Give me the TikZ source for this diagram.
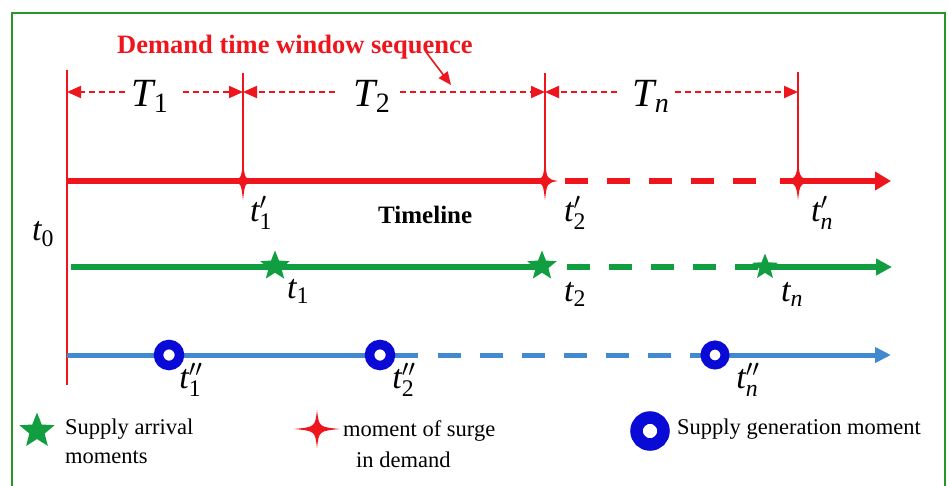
\RequirePackage{fix-cm}
\documentclass[tikz,border=0pt]{standalone}
\usepackage{amsmath}
\usepackage{fontspec}
\setmainfont{Liberation Serif}
\usetikzlibrary{arrows.meta,shapes.geometric}
\definecolor{redc}{RGB}{238,22,28}
\definecolor{greenc}{RGB}{16,158,64}
\definecolor{bluec}{RGB}{66,138,208}
\definecolor{ringc}{RGB}{10,10,215}
\definecolor{framec}{RGB}{40,150,40}
\newcommand{\iv}[1]{\text{\itshape #1}}
\newcommand{\uv}[1]{\text{\upshape #1}}
\tikzset{
  lab/.style={font=\fontsize{34}{38}\selectfont, inner sep=0pt},
  tlab/.style={font=\fontsize{40}{44}\selectfont, inner sep=0pt},
  legtext/.style={font=\fontsize{22.5}{30}\selectfont, inner sep=0pt, anchor=base west},
  tick/.style={redc, line width=2pt},
  dimline/.style={redc, line width=2pt, dash pattern=on 6pt off 4pt, -{Triangle[length=14pt,width=12pt]}},
  redline/.style={redc, line width=6pt},
  greenline/.style={greenc, line width=5.5pt},
  blueline/.style={bluec, line width=5pt},
  tldash/.style={dash pattern=on 23pt off 19pt},
  gstar/.style={star, star points=5, star point ratio=2.3, fill=greenc, inner sep=0pt, minimum size=#1},
  ring/.style={circle, draw=ringc, fill=white, inner sep=0pt, line width=#1},
  pics/spark/.style 2 args={code={\fill[redc] (0,-#2) .. controls (2,-2) .. (#1,0) .. controls (2,2) .. (0,#2) .. controls (-2,2) .. (-#1,0) .. controls (-2,-2) .. cycle;}}
}
\begin{document}
\begin{tikzpicture}[x=1pt,y=-1pt]
\useasboundingbox (0,0) rectangle (948,485);
\clip (0,0) rectangle (948,485);
\fill[white] (0,0) rectangle (948,485);
\draw[framec, line width=2pt] (12,13) rectangle (945,520);

% key coordinates
\coordinate (v0top) at (67,70);
\coordinate (v0bot) at (67,385);
\coordinate (v1top) at (243,73);
\coordinate (v2top) at (545,73);
\coordinate (v3top) at (798,72);
\coordinate (r0) at (67,181);
\coordinate (r1) at (243,181);
\coordinate (r2) at (545,181);
\coordinate (r3) at (798,181);
\coordinate (rd1) at (565,181);
\coordinate (rd2) at (757,181);
\coordinate (rs) at (780,181);
\coordinate (rend) at (891,181);
\coordinate (g0) at (71,267);
\coordinate (g1) at (275,266);
\coordinate (g2) at (542,266);
\coordinate (g3) at (765,267);
\coordinate (gs) at (542,267);
\coordinate (gd1) at (567,267);
\coordinate (gd2) at (758,267);
\coordinate (gend) at (892,267);
\coordinate (b0) at (67,355);
\coordinate (b1) at (169,355);
\coordinate (b2) at (380,355);
\coordinate (b3) at (715,355);
\coordinate (bs) at (418,355);
\coordinate (bd1) at (438,355);
\coordinate (bd2) at (712,355);
\coordinate (bend) at (891,355);

% title
\node[font=\bfseries\fontsize{26.5}{30}\selectfont, text=redc, inner sep=0pt, anchor=base west] (title) at (117,53) {Demand time window sequence};
\coordinate (ta0) at (426,52);
\coordinate (ta1) at (451,85);
\draw[redc, line width=1.6pt, -{Triangle[length=13pt,width=11pt]}] (ta0) -- (ta1);

% vertical ticks
\draw[tick] (v0top) -- (v0bot);
\draw[tick] (v1top) -- (r1);
\draw[tick] (v2top) -- (r2);
\draw[tick] (v3top) -- (r3);

% dimension arrows
\coordinate (d1a) at (125,92); \coordinate (d1b) at (183,92);
\coordinate (d2a) at (335,92); \coordinate (d2b) at (400,92);
\coordinate (d3a) at (617,92); \coordinate (d3b) at (675,92);
\coordinate (e0) at (67,92); \coordinate (e1) at (243,92);
\coordinate (e2) at (545,92); \coordinate (e3) at (798,92);
\draw[dimline] (d1a) -- (e0);
\draw[dimline] (d1b) -- (e1);
\draw[dimline] (d2a) -- (e1);
\draw[dimline] (d2b) -- (e2);
\draw[dimline] (d3a) -- (e2);
\draw[dimline] (d3b) -- (e3);
\node[tlab] (T1) at (150,96) {$\iv{T}_{\uv{1}}$};
\node[tlab] (T2) at (372,96) {$\iv{T}_{\uv{2}}$};
\node[tlab] (Tn) at (651,96) {$\iv{T}_{\iv{n}}$};

% red timeline
\draw[redline] (r0) -- (r2);
\draw[redline, tldash] (rd1) -- (rd2);
\draw[redline, -{Triangle[length=16pt,width=18pt]}] (rs) -- (rend);
\pic at (r1) {spark={11}{19}};
\pic at (r2) {spark={13}{19}};
\pic at (r3) {spark={19}{19}};
\node[lab] (lt0) at (43,234) {$\iv{t}_{\uv{0}}$};
\node[lab] (lt1p) at (261,213) {$\iv{t}'_{\uv{1}}$};
\node[lab] (lt2p) at (575,213) {$\iv{t}'_{\uv{2}}$};
\node[lab] (ltnp) at (822,213) {$\iv{t}'_{\iv{n}}$};
\node[font=\bfseries\fontsize{25}{30}\selectfont, inner sep=0pt, anchor=base west] (timeline) at (378,223) {Timeline};

% green line
\draw[greenline] (g0) -- (gs);
\draw[greenline, tldash] (gd1) -- (gd2);
\draw[greenline, -{Triangle[length=16pt,width=16pt]}] (g3) -- (gend);
\node[gstar=31pt] (s1) at (g1) {};
\node[gstar=31pt] (s2) at (g2) {};
\node[gstar=27pt] (s3) at (g3) {};
\node[lab] (lt1) at (298,291) {$\iv{t}_{\uv{1}}$};
\node[lab] (lt2) at (575,294) {$\iv{t}_{\uv{2}}$};
\node[lab] (ltn) at (792,294) {$\iv{t}_{\iv{n}}$};

% blue line
\draw[blueline] (b0) -- (bs);
\draw[blueline, tldash] (bd1) -- (bd2);
\draw[blueline, -{Triangle[length=16pt,width=15pt]}] (b3) -- (bend);
\node[ring=9.5pt, minimum size=21pt] (c1) at (b1) {};
\node[ring=9.5pt, minimum size=21pt] (c2) at (b2) {};
\node[ring=9pt, minimum size=20pt] (c3) at (b3) {};
\node[lab] (lt1pp) at (191,380) {$\iv{t}''_{\uv{1}}$};
\node[lab] (lt2pp) at (404,380) {$\iv{t}''_{\uv{2}}$};
\node[lab] (ltnpp) at (748,380) {$\iv{t}''_{\iv{n}}$};

% legend
\node[gstar=37pt] (legstar) at (37,431) {};
\node[legtext] (leg1a) at (65,434) {Supply arrival};
\node[legtext] (leg1b) at (65,463) {moments};
\coordinate (legsp) at (317,429);
\pic at (legsp) {spark={23}{19}};
\node[legtext] (leg2a) at (343,436) {moment of surge};
\node[legtext] (leg2b) at (356,467) {in demand};
\node[ring=12.5pt, minimum size=27pt] (legring) at (650,431) {};
\node[legtext] (leg3) at (677,434) {Supply generation moment};
\end{tikzpicture}
\end{document}
